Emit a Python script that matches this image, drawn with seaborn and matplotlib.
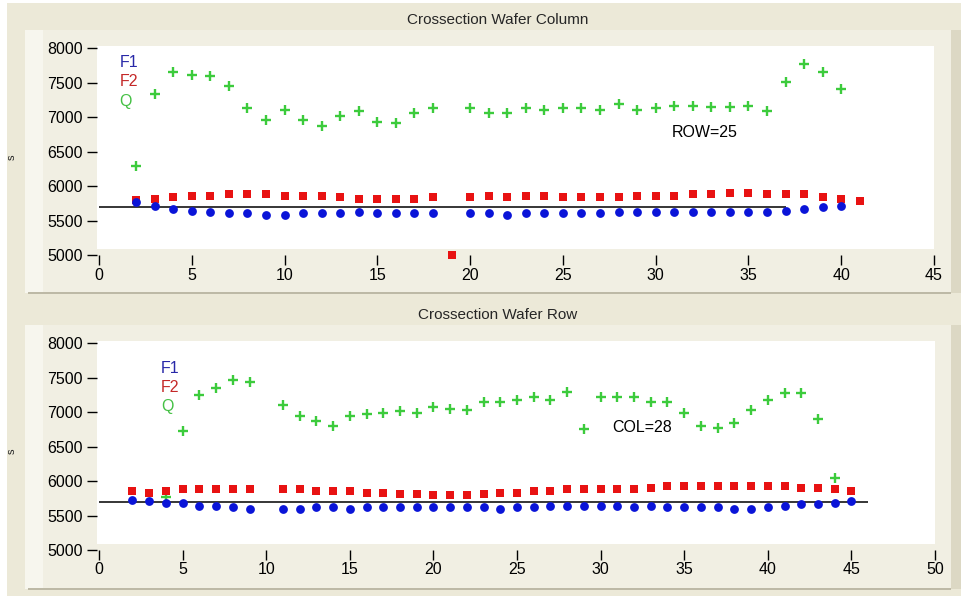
import numpy as np
import pandas as pd
import matplotlib.pyplot as plt
import seaborn as sns
from matplotlib.patches import Rectangle

nan = np.nan

# ---- Crossection Wafer Column (ROW=25) ----
col_x = list(range(2, 42))
col_f1 = [5770, 5716, 5668, 5643, 5624, 5605, 5605, 5580, 5580, 5605,
          5605, 5605, 5624, 5605, 5605, 5605, 5605, nan, 5605, 5605,
          5580, 5605, 5605, 5605, 5605, 5605, 5624, 5624, 5624, 5624,
          5624, 5624, 5624, 5624, 5624, 5643, 5668, 5692, 5716, nan]
col_f2 = [5798, 5818, 5842, 5861, 5861, 5885, 5885, 5885, 5861, 5861,
          5861, 5842, 5818, 5818, 5818, 5818, 5842, 5000, 5842, 5861,
          5842, 5861, 5861, 5842, 5842, 5842, 5842, 5861, 5861, 5861,
          5885, 5885, 5905, 5905, 5885, 5885, 5885, 5842, 5818, 5780]
col_q = [6290, 7340, 7660, 7620, 7600, 7450, 7130, 6955, 7105, 6955,
         6870, 7020, 7085, 6935, 6910, 7060, 7130, nan, 7130, 7060,
         7060, 7130, 7105, 7130, 7130, 7105, 7190, 7105, 7130, 7170,
         7170, 7150, 7150, 7170, 7085, 7515, 7775, 7660, 7405, nan]

# ---- Crossection Wafer Row (COL=28) ----
row_x = list(range(2, 46))
row_f1 = [5730, 5705, 5685, 5685, 5645, 5645, 5620, 5600, nan, 5600,
          5600, 5620, 5620, 5600, 5620, 5620, 5620, 5620, 5620, 5620,
          5620, 5620, 5600, 5620, 5620, 5645, 5645, 5645, 5645, 5645,
          5620, 5645, 5620, 5620, 5620, 5620, 5600, 5600, 5620, 5645,
          5665, 5665, 5685, 5705]
row_f2 = [5860, 5835, 5860, 5880, 5880, 5880, 5880, 5880, nan, 5880,
          5880, 5860, 5860, 5860, 5835, 5835, 5820, 5820, 5800, 5800,
          5800, 5820, 5835, 5835, 5860, 5860, 5880, 5880, 5880, 5880,
          5880, 5905, 5925, 5925, 5925, 5925, 5925, 5925, 5925, 5925,
          5905, 5905, 5880, 5860]
row_q = [nan, nan, 5775, 6735, 7250, 7355, 7465, 7445, nan, 7100,
         6950, 6870, 6800, 6950, 6970, 6995, 7015, 6995, 7080, 7055,
         7035, 7145, 7145, 7185, 7225, 7185, 7295, 6755, 7225, 7225,
         7225, 7145, 7145, 6995, 6800, 6775, 6845, 7035, 7185, 7275,
         7275, 6905, 6050, nan]

ref_level = 5700
col_ref_end = 37
row_ref_end = 46

sns.set_theme(style="white")
plt.rcParams['font.family'] = ['Liberation Sans', 'DejaVu Sans']

BG = '#ECE9D8'
PANEL = '#F1EFE3'
colors = {'F1': '#0A14D8', 'F2': '#E81212', 'Q': '#3CCB3C'}
text_colors = {'F1': '#2828A8', 'F2': '#C42828', 'Q': '#44C044'}

fig = plt.figure(figsize=(9.61, 5.96), dpi=100, facecolor=BG)
W, H = 961, 596

# background axes for the window chrome, drawn below the plots
bg = fig.add_axes([0, 0, 1, 1], zorder=-5)
bg.set_xlim(0, W)
bg.set_ylim(H, 0)
bg.axis('off')


def px_rect(x0, y0, x1, y1, **kw):
    bg.add_patch(Rectangle((x0, y0), x1 - x0, y1 - y0, linewidth=0, **kw))


px_rect(0, 0, 7, H, facecolor='white')
px_rect(0, 0, W, 3, facecolor='white')
for y0, y1 in [(30, 293), (325, 589)]:
    px_rect(25, y0, 951, y1, facecolor=PANEL)
    px_rect(25, y0, 43, y1, facecolor='#F7F6EE')
    px_rect(951, y0, 961, y1, facecolor='#DCD8C4')
    px_rect(28, y1 - 1, 951, y1 + 1, facecolor='#BDB9A6')


def make_panel(rect, x, f1, f2, q, xlim, xticks, ref_end, note, note_xy, leg_xy):
    ax = fig.add_axes(rect, zorder=2)
    ax.patch.set_visible(False)
    ax.add_patch(Rectangle((0, 0.027), 1, 0.973, transform=ax.transAxes,
                           facecolor='white', linewidth=0, zorder=0))
    df = pd.DataFrame({'x': x, 'F1': f1, 'F2': f2, 'Q': q})
    sns.scatterplot(data=df, x='x', y='Q', marker='+', s=50, linewidth=1.7,
                    color=colors['Q'], ax=ax, clip_on=False, zorder=3)
    sns.scatterplot(data=df, x='x', y='F2', marker='s', s=40, linewidth=0,
                    color=colors['F2'], ax=ax, clip_on=False, zorder=3)
    sns.scatterplot(data=df, x='x', y='F1', marker='o', s=40, linewidth=0,
                    color=colors['F1'], ax=ax, clip_on=False, zorder=4)
    ax.hlines(ref_level, 0, ref_end, color='black', linewidth=1.1, zorder=2)

    ax.set_xlim(*xlim)
    ax.set_ylim(5000, 8040)
    ax.set_xticks(xticks)
    ax.set_yticks(range(5000, 8001, 500))
    for s in ax.spines.values():
        s.set_visible(False)
    ax.tick_params(axis='both', direction='out', length=7, width=1, color='black',
                   labelsize=11.5, labelcolor='black', left=True, bottom=True)
    ax.tick_params(axis='y', pad=3)
    ax.tick_params(axis='x', pad=2)
    ax.set_xlabel('')
    ax.set_ylabel('')

    ax.text(note_xy[0], note_xy[1], note, fontsize=11.5, ha='left', va='center', color='black')
    for i, name in enumerate(['F1', 'F2', 'Q']):
        ax.text(leg_xy[0], leg_xy[1] - i * 278, name, fontsize=11.5, ha='left',
                va='center', color=text_colors[name])
    return ax


make_panel([96.8 / W, 1 - 255 / H, 837.2 / W, 209.3 / H],
           col_x, col_f1, col_f2, col_q, (-0.12, 45.0), range(0, 46, 5), col_ref_end,
           'ROW=25', (30.85, 6776), (1.1, 7792))
make_panel([96.7 / W, 1 - 550 / H, 838.3 / W, 209.3 / H],
           row_x, row_f1, row_f2, row_q, (-0.14, 50.0), range(0, 51, 5), row_ref_end,
           'COL=28', (30.7, 6776), (3.7, 7637))

fig.text(498 / W, 1 - 20 / H, 'Crossection Wafer Column', ha='center', va='center', fontsize=11)
fig.text(498 / W, 1 - 315 / H, 'Crossection Wafer Row', ha='center', va='center', fontsize=11)
fig.text(12 / W, 1 - 157 / H, 's', ha='center', va='center', fontsize=8, rotation=90)
fig.text(12 / W, 1 - 451 / H, 's', ha='center', va='center', fontsize=8, rotation=90)

fig.savefig('out.png', dpi=100, facecolor=BG)
